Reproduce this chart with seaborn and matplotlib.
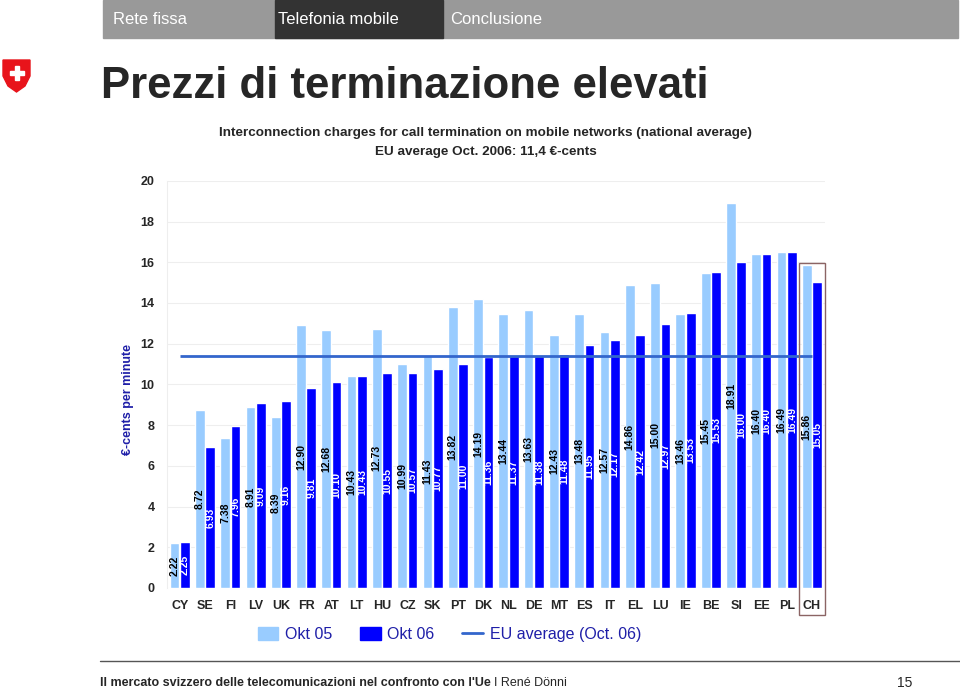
import numpy as np
import pandas as pd
import matplotlib
matplotlib.use("Agg")
import matplotlib.pyplot as plt
import seaborn as sns
from matplotlib.patches import Rectangle, Polygon
from matplotlib.lines import Line2D

countries = ["CY", "SE", "FI", "LV", "UK", "FR", "AT", "LT", "HU", "CZ", "SK", "PT", "DK",
             "NL", "DE", "MT", "ES", "IT", "EL", "LU", "IE", "BE", "SI", "EE", "PL", "CH"]
okt05 = [2.22, 8.72, 7.38, 8.91, 8.39, 12.90, 12.68, 10.43, 12.73, 10.99, 11.43, 13.82, 14.19,
         13.44, 13.63, 12.43, 13.48, 12.57, 14.86, 15.00, 13.46, 15.45, 18.91, 16.40, 16.49, 15.86]
okt06 = [2.25, 6.93, 7.96, 9.09, 9.16, 9.81, 10.10, 10.43, 10.55, 10.57, 10.77, 11.00, 11.36,
         11.37, 11.38, 11.48, 11.95, 12.17, 12.42, 12.97, 13.53, 15.53, 16.00, 16.40, 16.49, 15.05]
series_names = ["Okt 05", "Okt 06"]
eu_avg = 11.4
yticks = [0, 2, 4, 6, 8, 10, 12, 14, 16, 18, 20]

light = "#99CCFF"
dark = "#0000FF"
navy = "#1F1FA8"
fam = ["Liberation Sans", "DejaVu Sans"]

df = pd.DataFrame({
    "country": countries * 2,
    "value": okt05 + okt06,
    "period": [series_names[0]] * len(countries) + [series_names[1]] * len(countries),
})

sns.set_style("white")
plt.rcParams["font.family"] = fam

fig = plt.figure(figsize=(9.6, 6.89), dpi=100)
ax = fig.add_axes([0.174, 0.1466, 0.685, 0.591])

sns.barplot(data=df, x="country", y="value", hue="period", palette=[light, dark],
            saturation=1, width=0.82, gap=0.06, legend=False, ax=ax)

# labels centred inside bars
for cont, vals, col in zip(ax.containers, [okt05, okt06], ["black", "white"]):
    ax.bar_label(cont, labels=[f"{v:.2f}" for v in vals], label_type="center",
                 rotation=90, color=col, fontsize=7.5, fontweight="bold")

# EU average line
ax.hlines(eu_avg, 0, len(countries) - 1, color="#3366CC", lw=2, zorder=3)

ax.set_xlim(-0.5, len(countries) - 0.5)
ax.set_ylim(0, 20)
ax.set_yticks(yticks)
ax.set_yticklabels([str(t) for t in yticks], fontweight="bold", fontsize=9)
ax.tick_params(axis="x", labelsize=9, length=0, pad=9)
ax.tick_params(axis="y", length=0, pad=9)
for lab in ax.get_xticklabels():
    lab.set_fontweight("bold")
ax.set_xlabel("")
ax.set_ylabel("€-cents per minute", color=navy, fontweight="bold", fontsize=9)
ax.yaxis.set_label_coords(-0.05, 0.462)
ax.grid(axis="y", color="#EEEEEE", lw=0.8)
ax.set_axisbelow(True)
for s in ["top", "right", "bottom"]:
    ax.spines[s].set_visible(False)
ax.spines["left"].set_color("#EEEEEE")

# frame around CH
ax.add_patch(Rectangle((24.5, -1.33), 1.0, 17.3, fill=False, ec="#8B6464", lw=1,
                       clip_on=False, zorder=5))

# legend
handles = [Rectangle((0, 0), 1, 1, color=light), Rectangle((0, 0), 1, 1, color=dark),
           Line2D([0], [0], color="#3366CC", lw=2)]
fig.legend(handles, series_names + ["EU average (Oct. 06)"], loc="center",
           bbox_to_anchor=(0.468, 0.079), ncol=3, frameon=False, fontsize=11.5,
           labelcolor=navy, handlelength=1.3, handleheight=0.9, columnspacing=1.75,
           handletextpad=0.4)

# chart title
fig.text(0.506, 0.807, "Interconnection charges for call termination on mobile networks (national average)",
         ha="center", va="center", fontsize=9.7, fontweight="bold")
fig.text(0.506, 0.779, "EU average Oct. 2006: 11,4 €-cents", ha="center", va="center",
         fontsize=9.7, fontweight="bold")

# slide decorations
fig.patches.append(Rectangle((103 / 960, 1 - 38 / 689), 855 / 960, 38 / 689, color="#999999",
                             transform=fig.transFigure, figure=fig))
fig.patches.append(Rectangle((275 / 960, 1 - 38 / 689), 168 / 960, 38 / 689, color="#333333",
                             transform=fig.transFigure, figure=fig))
for x, t in [(113, "Rete fissa"), (278, "Telefonia mobile"), (450, "Conclusione")]:
    fig.text(x / 960, 1 - 19 / 689, t, color="white", fontsize=12, va="center")

fig.text(101 / 960, 1 - 86 / 689, "Prezzi di terminazione elevati", fontsize=31.5,
         fontweight="bold", va="center")

shield = [(3, 60), (30, 60), (30, 76), (25, 86), (16.5, 92), (8, 86), (3, 76)]
fig.patches.append(Polygon([(x / 960, 1 - y / 689) for x, y in shield], closed=True,
                           color="#E8141B", transform=fig.transFigure, figure=fig))
cross = [(14.5, 66), (18.5, 66), (18.5, 71), (23.5, 71), (23.5, 75), (18.5, 75), (18.5, 80),
         (14.5, 80), (14.5, 75), (9.5, 75), (9.5, 71), (14.5, 71)]
fig.patches.append(Polygon([(x / 960, 1 - y / 689) for x, y in cross], closed=True,
                           color="white", transform=fig.transFigure, figure=fig))

fig.add_artist(Line2D([100 / 960, 1.0], [1 - 661 / 689, 1 - 661 / 689], color="#555555",
                      lw=1, transform=fig.transFigure))
foot = fig.text(100 / 960, 1 - 683 / 689,
                "Il mercato svizzero delle telecomunicazioni nel confronto con l'Ue",
                fontsize=9, fontweight="bold", va="center")
fig.canvas.draw()
bb = foot.get_window_extent(fig.canvas.get_renderer())
fig.text((bb.x1 + 3) / 960, 1 - 683 / 689, "I René Dönni", fontsize=9, va="center")
fig.text(912 / 960, 1 - 683 / 689, "15", fontsize=10, va="center", ha="right")

fig.savefig("out.png", dpi=100)
